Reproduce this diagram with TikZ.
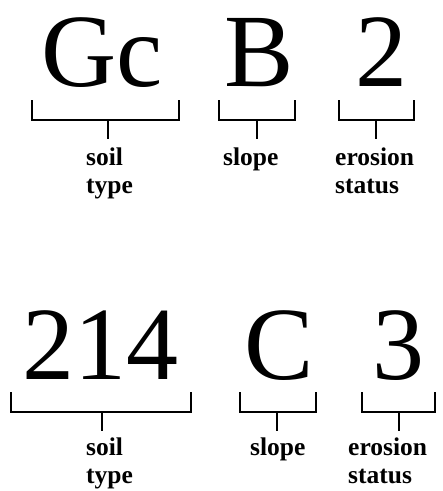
\documentclass[tikz,border=0pt]{standalone}
\usepackage{fontspec}
\setmainfont{Liberation Serif}
\begin{document}
\begin{tikzpicture}[x=1pt,y=-1pt,
  big/.style={inner sep=0pt,anchor=base,font=\fontsize{104}{104}\selectfont},
  lbl/.style={inner sep=0pt,anchor=base west,align=left,font=\fontsize{25.5}{28.5}\selectfont\bfseries},
  brk/.style={line width=1.3pt,line cap=rect}]
\useasboundingbox (0,0) rectangle (443,491);
% top row
\node[big] (gc) at (102,86) {Gc};
\node[big] (b) at (259,86) {B};
\node[big] (two) at (381,86) {2};
\draw[brk] (32,101) |- (179,120) -- (179,101) (108,120) -- (108,138);
\draw[brk] (219,101) |- (295,120) -- (295,101) (257,120) -- (257,138);
\draw[brk] (339,101) |- (414,120) -- (414,101) (376,120) -- (376,138);
\node[lbl] (st1) at (86,193.5) {soil\\type};
\node[lbl] (sl1) at (223,165) {slope};
\node[lbl] (er1) at (335,193.5) {erosion\\status};
% bottom row
\node[big] (n214) at (101,379) {214};
\node[big] (c) at (279,379) {C};
\node[big] (three) at (398.5,379) {3};
\draw[brk] (11,393) |- (191,412) -- (191,393) (102,412) -- (102,430);
\draw[brk] (240,393) |- (316,412) -- (316,393) (277,412) -- (277,430);
\draw[brk] (362,393) |- (435,412) -- (435,393) (399,412) -- (399,430);
\node[lbl] (st2) at (86,483.5) {soil\\type};
\node[lbl] (sl2) at (250,455) {slope};
\node[lbl] (er2) at (348,483.5) {erosion\\status};
\end{tikzpicture}
\end{document}
